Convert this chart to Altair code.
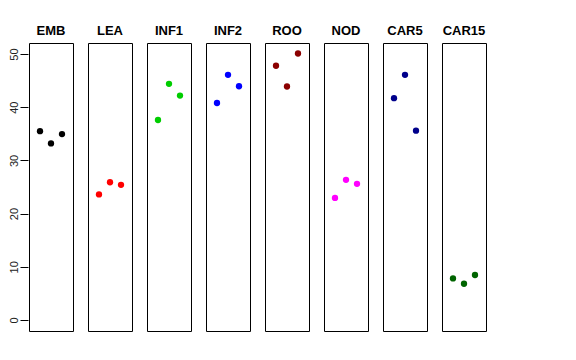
import altair as alt
import pandas as pd

groups = ["EMB", "LEA", "INF1", "INF2", "ROO", "NOD", "CAR5", "CAR15"]
colors = ["#000000", "#FF0000", "#00CD00", "#0000FF", "#8B0000", "#FF00FF", "#00008B", "#006400"]
rep1 = [35.5, 23.6, 37.6, 40.8, 47.8, 22.95, 41.7, 7.8]
rep2 = [33.2, 25.9, 44.4, 46.1, 43.9, 26.35, 46.1, 6.8]
rep3 = [34.95, 25.4, 42.2, 43.95, 50.1, 25.6, 35.6, 8.45]
y_ticks = [0, 10, 20, 30, 40, 50]

rows = []
for g, a, b, c in zip(groups, rep1, rep2, rep3):
    for i, v in enumerate([a, b, c], start=1):
        rows.append({"group": g, "rep": i, "value": v})
df = pd.DataFrame(rows)

FONT = "Liberation Sans"

chart = alt.Chart(df).mark_circle(size=40, opacity=1).encode(
    x=alt.X("rep:Q", scale=alt.Scale(domain=[0, 4], nice=False), axis=None),
    y=alt.Y("value:Q", scale=alt.Scale(domain=[-2.08, 52.08], nice=False, zero=False),
            axis=alt.Axis(values=y_ticks, title=None, grid=False, domain=False,
                          tickColor="black", tickSize=8, labelAngle=-90,
                          labelAlign="center", labelBaseline="bottom",
                          labelPadding=1, labelFont=FONT, labelFontSize=11,
                          labelColor="#222222")),
    color=alt.Color("group:N", scale=alt.Scale(domain=groups, range=colors), legend=None),
).properties(width=44, height=288).facet(
    column=alt.Column("group:N", sort=groups,
                      header=alt.Header(title=None, labelFont=FONT, labelFontSize=13,
                                        labelFontWeight="bold", labelColor="black",
                                        labelPadding=4)),
    spacing=13,
).properties(
    padding={"left": 0, "top": 17, "right": 0, "bottom": 0},
    background="white",
).configure_view(stroke="black", strokeWidth=1)

chart.save("out.html", embed_options={"renderer": "svg", "actions": False})
